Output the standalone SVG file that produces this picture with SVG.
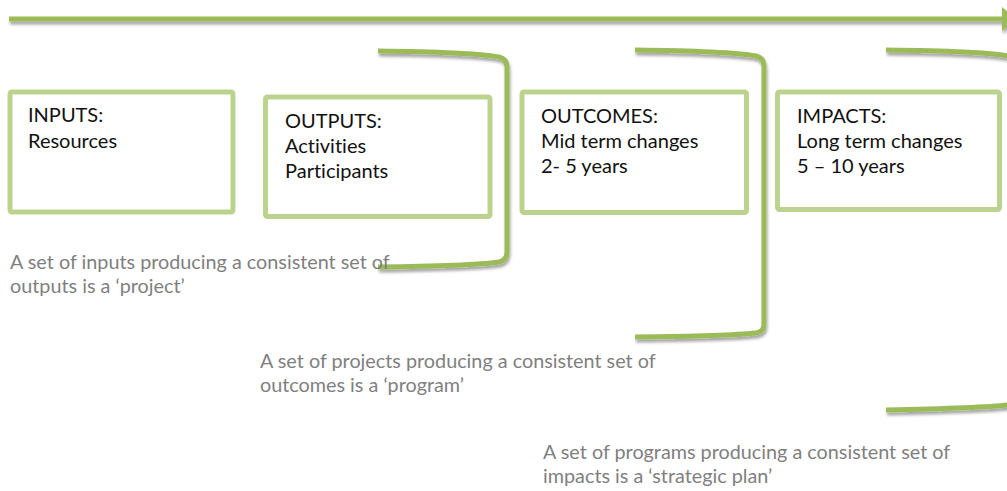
<svg xmlns="http://www.w3.org/2000/svg" width="1007" height="491" viewBox="0 0 1007 491">
  <defs>
    <filter id="shadow" x="-5%" y="-20%" width="110%" height="140%">
      <feDropShadow dx="1" dy="3" stdDeviation="1.6" flood-color="#000" flood-opacity="0.35"/>
    </filter>
    <marker id="arrowhead" viewBox="0 0 14 24" refX="0" refY="12" markerWidth="14" markerHeight="24" orient="auto" markerUnits="userSpaceOnUse">
      <path d="M0,0 L14,12 L0,24 Z" fill="#9BBB59"/>
    </marker>
    <style>
      .box { fill: #fff; stroke: #BBD38F; stroke-width: 5; }
      .label { font-family: Lato, "Liberation Sans", sans-serif; font-size: 20px; fill: #111; font-variant-ligatures: none; }
      .note { font-family: Lato, "Liberation Sans", sans-serif; font-size: 19.8px; fill: #7F7F7F; font-variant-ligatures: none; }
      .line { fill: none; stroke: #9BBB59; stroke-width: 5; stroke-linecap: butt; }
    </style>
  </defs>

  <rect width="1007" height="491" fill="#fff"/>

  <!-- timeline arrow and brackets -->
  <g id="connectors" filter="url(#shadow)">
    <path class="line" d="M9,19 L1002,19" marker-end="url(#arrowhead)"/>
    <path class="line" d="M378,51 Q470,52 499,57 Q507,59 507,67 V252 Q507,260 499,262 Q470,266 378,267"/>
    <path class="line" d="M635,50 Q728,51 756,56 Q764,58 764,66 V324 Q764,332 756,333 Q728,336 635,337"/>
    <path class="line" d="M886,50 Q982,51 1008,56 Q1016,58 1016,66 V398 Q1016,404 1008,405 Q982,408 886,410"/>
  </g>

  <g id="inputs">
    <rect class="box" x="10" y="92" width="223" height="120" rx="2"/>
    <text class="label" x="28" y="122">INPUTS:</text>
    <text class="label" x="28" y="147.5">Resources</text>
  </g>

  <g id="outputs">
    <rect class="box" x="265.5" y="97" width="224.5" height="119.5" rx="2"/>
    <text class="label" x="285" y="128">OUTPUTS:</text>
    <text class="label" x="285" y="153">Activities</text>
    <text class="label" x="285" y="178">Participants</text>
  </g>

  <g id="outcomes">
    <rect class="box" x="522" y="92" width="224.5" height="120.5" rx="2"/>
    <text class="label" x="541" y="122.5">OUTCOMES:</text>
    <text class="label" x="541" y="147.5">Mid term changes</text>
    <text class="label" x="541" y="172.5">2- 5 years</text>
  </g>

  <g id="impacts">
    <rect class="box" x="777.5" y="92" width="222" height="117.5" rx="2"/>
    <text class="label" x="797" y="122.5">IMPACTS:</text>
    <text class="label" x="797" y="147.5">Long term changes</text>
    <text class="label" x="797" y="172.5">5 – 10 years</text>
  </g>

  <g id="project-note">
    <text class="note" x="10" y="269">A set of inputs producing a consistent set of</text>
    <text class="note" x="10" y="293">outputs is a ‘project’</text>
  </g>

  <g id="program-note">
    <text class="note" x="260" y="368">A set of projects producing a consistent set of</text>
    <text class="note" x="260" y="392">outcomes is a ‘program’</text>
  </g>

  <g id="plan-note">
    <text class="note" x="543" y="459">A set of programs producing a consistent set of</text>
    <text class="note" x="543" y="483">impacts is a ‘strategic plan’</text>
  </g>
</svg>
